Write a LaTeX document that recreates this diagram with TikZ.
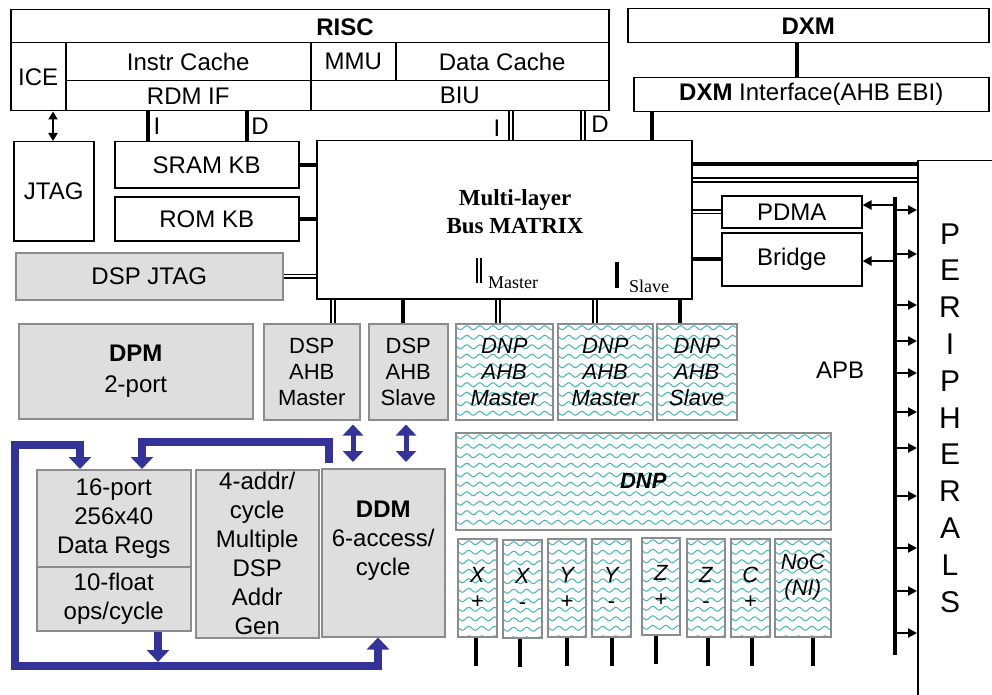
\documentclass[tikz,border=0pt]{standalone}
\usepackage{fontspec}
\setmainfont{Liberation Sans}
\newfontfamily\timesfont{Liberation Serif}
\usetikzlibrary{arrows.meta,decorations.pathmorphing}
\pgfdeclarelayer{bg}
\pgfsetlayers{bg,main}
\definecolor{boxgray}{RGB}{222,222,222}
\definecolor{edgegray}{RGB}{140,140,140}
\definecolor{wavecol}{RGB}{70,182,182}
\definecolor{pathblue}{RGB}{51,51,153}
\newcommand\Bx[7]{%
  \pgfmathsetmacro\bxw{#5-#3}%
  \pgfmathsetmacro\bxh{#6-#4}%
  \node[#1, minimum width=\bxw pt, minimum height=\bxh pt] (#2) at (#3,#4) {#7};}
\begin{document}
\begin{tikzpicture}[x=1pt,y=-1pt,
  txt/.style={font=\fontsize{24}{29}\selectfont, inner sep=0pt, align=center},
  base/.style={txt, anchor=north west, line width=1.5pt},
  wbox/.style={base, draw=black, fill=white},
  gbox/.style={base, draw=edgegray, fill=boxgray},
  sm/.style={font=\fontsize{22}{26}\selectfont},
  wavebox/.style={base, draw=edgegray, fill=white, font=\fontsize{22}{26}\selectfont\itshape,
    path picture={\foreach \i in {0,...,12}{\draw[wavecol, line width=1pt, decorate,
      decoration={snake, amplitude=2pt, segment length=13pt}]
      ([xshift=-6pt, yshift=-4pt-\i*9.5pt]path picture bounding box.north west) --
      ([xshift=6pt, yshift=-4pt-\i*9.5pt]path picture bounding box.north east);}}},
  thk/.style={line width=4pt},
  dbl/.style={double=white, double distance=2pt, line width=1.6pt},
  parr/.style={line width=2.5pt, -{Triangle[length=9pt,width=9pt]}},
  bl/.style={draw=pathblue, line width=8pt, line join=miter, -{Triangle[length=12pt,width=22pt]}},
  bdbl/.style={draw=pathblue, line width=5pt, {Triangle[length=11pt,width=20pt]}-{Triangle[length=11pt,width=20pt]}}
]
\useasboundingbox (0,0) rectangle (992,695);

% RISC
\Bx{wbox}{risc}{10}{9}{608}{110}{}
\Bx{wbox}{ice}{10}{42}{65}{110}{ICE}
\Bx{wbox}{icache}{65}{42}{310}{80}{Instr Cache}
\Bx{wbox}{mmu}{310}{42}{395}{80}{MMU}
\Bx{wbox}{dcache}{395}{42}{608}{80}{Data Cache}
\Bx{wbox}{rdm}{65}{80}{310}{110}{RDM IF}
\Bx{wbox}{biu}{310}{80}{608}{110}{BIU}
\node[txt, font=\fontsize{24}{29}\selectfont\bfseries] (risclbl) at (345,27) {RISC};

% DXM
\Bx{wbox}{dxm}{627}{8}{988}{42}{\textbf{DXM}}
\Bx{wbox}{dxmif}{633}{77}{988}{111}{\textbf{DXM} Interface(AHB EBI)}

% left column
\Bx{wbox}{jtag}{13}{141}{93}{240}{JTAG}
\Bx{wbox}{sram}{114}{141}{298}{187}{SRAM KB}
\Bx{wbox}{rom}{114}{196}{298}{240}{ROM KB}
\Bx{gbox}{dspjtag}{15}{252}{282}{299}{DSP JTAG}

% bus matrix
\Bx{wbox}{bus}{316}{140}{691}{298}{}
\node[txt, font=\timesfont\bfseries\fontsize{23}{28}\selectfont] (buslbl) at (515,212) {Multi-layer\\Bus MATRIX};
\draw[dbl] (479,258) -- (479,283);
\node[anchor=base west, inner sep=0pt, font=\timesfont\fontsize{18}{20}\selectfont] (mlbl) at (488,288) {Master};
\draw[thk] (617,262) -- (617,288);
\node[anchor=base west, inner sep=0pt, font=\timesfont\fontsize{18}{20}\selectfont] (slbl) at (629,292) {Slave};

% PDMA, bridge, peripherals
\Bx{wbox}{pdma}{721}{195}{861}{227}{PDMA}
\Bx{wbox}{bridge}{721}{232}{861}{285}{Bridge}
\Bx{base, draw=black}{periph}{917}{160}{1010}{720}{}
\node[txt, font=\fontsize{30}{36.8}\selectfont] (plbl) at (950,418) {P\\E\\R\\I\\P\\H\\E\\R\\A\\L\\S};
\node[txt] (apblbl) at (840,370) {APB};
\coordinate (apbT) at (895,197);
\coordinate (apbB) at (895,655);

% AHB row
\Bx{gbox}{dpm}{18}{323}{252}{418}{\textbf{DPM}\\[2pt]2-port}
\Bx{gbox,sm}{dspm}{263}{323}{359}{419}{DSP\\AHB\\Master}
\Bx{gbox,sm}{dsps}{368}{323}{447}{419}{DSP\\AHB\\Slave}
\Bx{wavebox}{dnpm1}{455}{323}{552}{419}{DNP\\AHB\\Master}
\Bx{wavebox}{dnpm2}{557}{323}{652}{419}{DNP\\AHB\\Master}
\Bx{wavebox}{dnps}{656}{323}{736}{419}{DNP\\AHB\\Slave}

% DNP
\Bx{wavebox}{dnp}{455}{432}{830}{529}{\bfseries DNP}
\Bx{wavebox}{xp}{457}{538}{496}{636}{X\\+}
\Bx{wavebox}{xm}{502}{539}{541}{637}{X\\-}
\Bx{wavebox}{yp}{547}{538}{585}{636}{Y\\+}
\Bx{wavebox}{ym}{591}{538}{630}{636}{Y\\-}
\Bx{wavebox}{zp}{641}{537}{679}{634}{Z\\+}
\Bx{wavebox}{zm}{686}{538}{724}{636}{Z\\-}
\Bx{wavebox}{cp}{730}{538}{769}{636}{C\\+}
\Bx{wavebox}{noc}{774}{538}{830}{636}{NoC\\(NI)\\\mbox{}}

% DSP core
\Bx{gbox}{rf}{36}{469}{190}{566}{16-port\\256x40\\Data Regs}
\Bx{gbox}{fpu}{36}{566}{190}{630}{10-float\\ops/cycle}
\Bx{gbox}{agen}{195}{469}{318}{637}{4-addr/\\cycle\\Multiple\\DSP\\Addr\\Gen}
\Bx{gbox}{ddm}{321}{468}{444}{636}{\textbf{DDM}\\6-access/\\cycle\\\mbox{}}

% RDM/BIU labels
\node[txt] (ilbl1) at (157,126) {I};
\node[txt] (dlbl1) at (260,126) {D};
\node[txt] (ilbl2) at (497,128) {I};
\node[txt] (dlbl2) at (600,124) {D};

\begin{pgfonlayer}{bg}
\draw[line width=2.5pt, {Triangle[length=8pt,width=9pt]}-{Triangle[length=8pt,width=9pt]}] (53,0 |- ice.south) -- (53,0 |- jtag.north);
\draw[thk] (148,0 |- rdm.south) -- (148,0 |- sram.north);
\draw[thk] (247,0 |- rdm.south) -- (247,0 |- sram.north);
\draw[dbl] (511,0 |- biu.south) -- (511,0 |- bus.north);
\draw[dbl] (583,0 |- biu.south) -- (583,0 |- bus.north);
\draw[thk] (797,0 |- dxm.south) -- (797,0 |- dxmif.north);
\draw[thk] (652,0 |- dxmif.south) -- (652,0 |- bus.north);
\draw[thk] (sram.east) -- (sram.east -| bus.west);
\draw[thk] (rom.east) -- (rom.east -| bus.west);
\draw[dbl] (dspjtag.east) -- (dspjtag.east -| bus.west);
\draw[thk] (bus.east |- 0,164) -- (periph.west |- 0,164);
\draw[dbl] (bus.east |- 0,180) -- (periph.west |- 0,180);
\draw[dbl] (bus.east |- pdma.west) -- (pdma.west);
\draw[thk] (bus.east |- bridge.west) -- (bridge.west);
\draw[dbl] (333,0 |- bus.south) -- (333,0 |- dspm.north);
\draw[thk] (403,0 |- bus.south) -- (403,0 |- dsps.north);
\draw[dbl] (498,0 |- bus.south) -- (498,0 |- dnpm1.north);
\draw[dbl] (595,0 |- bus.south) -- (595,0 |- dnpm2.north);
\draw[thk] (680,295) -- (680,0 |- dnps.north);
\draw[line width=4pt] (apbT) -- (apbB);
\draw[parr] (apbT |- 0,205) -- (pdma.east |- 0,205);
\draw[parr] (apbT |- 0,261) -- (bridge.east |- 0,261);
\foreach \yy in {210,254,305,341,373,412,448,496,548,591,633}
  \draw[parr] (apbT |- 0,\yy) -- (periph.west |- 0,\yy);
\foreach \n/\xx in {xp/476,xm/520,yp/567,ym/612,zp/656,zm/708,cp/752,noc/813}
  \draw[thk] (\xx,0 |- \n.south) -- ++(0,28);
\end{pgfonlayer}

% blue data paths
\draw[bdbl, shorten <=4pt, shorten >=6pt] (353,0 |- dspm.south) -- (353,0 |- ddm.north);
\draw[bdbl, shorten <=4pt, shorten >=6pt] (406,0 |- dsps.south) -- (406,0 |- ddm.north);
\draw[bl, {Triangle[length=12pt,width=22pt]}-{Triangle[length=12pt,width=22pt]}]
  (378,0 |- ddm.south) |- (15,666) |- (80,445) -- (80,0 |- rf.north);
\draw[bl] (158,0 |- fpu.south) -- (158,662);
\draw[bl, shorten <=5pt] (329,0 |- ddm.north) |- (142,442) -- (142,0 |- rf.north);
\end{tikzpicture}
\end{document}
